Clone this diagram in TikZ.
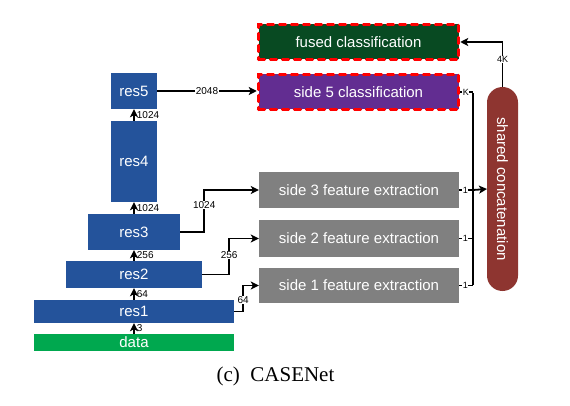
\documentclass[tikz,border=0pt]{standalone}
\usepackage{fontspec}
\setmainfont{Liberation Sans}
\newfontfamily\capfont{Liberation Serif}
\usetikzlibrary{arrows.meta}
\definecolor{resblue}{RGB}{36,83,155}
\definecolor{datagreen}{RGB}{0,168,79}
\definecolor{sidegray}{RGB}{128,128,128}
\definecolor{fusedgreen}{RGB}{8,74,34}
\definecolor{sidepurple}{RGB}{98,45,145}
\definecolor{concatred}{RGB}{142,53,48}
\tikzset{
  box/.style={inner sep=0pt, text=white, font=\fontsize{15}{18}\selectfont},
  clsbox/.style={box, draw=red, line width=3.5pt, dash pattern=on 6pt off 6pt, line cap=round},
  arr/.style={line width=1.8pt, -{Stealth[length=8pt,width=8pt,inset=2pt]}},
  ln/.style={line width=1.8pt},
  lbl/.style={fill=white, inner sep=0.5pt, font=\fontsize{10}{11}\selectfont},
  slbl/.style={fill=white, inner sep=0.5pt, font=\fontsize{9}{10}\selectfont},
  uplbl/.style={right, inner sep=1pt, xshift=1pt, font=\fontsize{10}{11}\selectfont},
}
\begin{document}
\begin{tikzpicture}[x=1pt,y=-1pt]
\useasboundingbox (0,0) rectangle (570,406);
% left stack
\node[box, fill=resblue, minimum width=46pt, minimum height=36pt] (res5) at (134,91) {res5};
\node[box, fill=resblue, minimum width=46pt, minimum height=81pt] (res4) at (134,161.5) {res4};
\node[box, fill=resblue, minimum width=92pt, minimum height=36pt] (res3) at (134,232) {res3};
\node[box, fill=resblue, minimum width=136pt, minimum height=27pt] (res2) at (134,274.5) {res2};
\node[box, fill=resblue, minimum width=200pt, minimum height=23pt] (res1) at (134,311.5) {res1};
\node[box, fill=datagreen, minimum width=200pt, minimum height=17pt] (data) at (134,342.5) {data};
% right boxes
\node[clsbox, fill=fusedgreen, minimum width=200pt, minimum height=35pt] (fused) at (358.5,42) {fused classification};
\node[clsbox, fill=sidepurple, minimum width=200pt, minimum height=35pt] (side5) at (358.5,92) {side 5 classification};
\node[box, fill=sidegray, minimum width=200pt, minimum height=36pt] (side3) at (359,190) {side 3 feature extraction};
\node[box, fill=sidegray, minimum width=200pt, minimum height=37pt] (side2) at (359,238.5) {side 2 feature extraction};
\node[box, fill=sidegray, minimum width=200pt, minimum height=35pt] (side1) at (359,285.5) {side 1 feature extraction};
\node[box, fill=concatred, minimum width=204pt, minimum height=31pt, rounded corners=15.5pt, rotate=-90] (concat) at (502.5,189) {shared concatenation};
\coordinate (cin) at (487,189);
\coordinate (ctop) at (502.5,87);
% up arrows
\draw[arr] (data.north) -- node[uplbl]{3} (res1.south);
\draw[arr] (res1.north) -- node[uplbl]{64} (res2.south);
\draw[arr] (res2.north) -- node[uplbl]{256} (res3.south);
\draw[arr] (res3.north) -- node[uplbl]{1024} (res4.south);
\draw[arr] (res4.north) -- node[uplbl]{1024} (res5.south);
% side connectors
\draw[arr] (res5.east) -- node[lbl]{2048} (res5.east -| side5.west);
\draw[arr] (res3.east) -- ++(24,0) |- node[lbl, pos=0.32]{1024} (side3.west);
\draw[arr] (res2.east) -- ++(27,0) |- node[lbl, pos=0.27]{256} (side2.west);
\draw[arr] (res1.east) -- ++(9,0) |- node[lbl, pos=0.22]{64} (side1.west);
% bus
\coordinate (bus) at (473,92);
\draw[ln] (side5.east) -- node[slbl, pos=0.45]{K} (side5.east -| bus);
\draw[ln] (side3.east) -- node[slbl, pos=0.45]{1} (side3.east -| bus);
\draw[ln] (side2.east) -- node[slbl, pos=0.45]{1} (side2.east -| bus);
\draw[ln] (side1.east) -- node[slbl, pos=0.45]{1} (side1.east -| bus);
\draw[ln] ([yshift=-0.9pt]side5.east -| bus) -- ([yshift=0.9pt]side1.east -| bus);
\draw[arr] (side3.east -| bus) -- (cin);
\draw[arr] (ctop) |- node[slbl, pos=0.31]{4K} (fused.east);
% caption
\node[inner sep=0pt, font=\capfont\fontsize{21}{24}\selectfont] (cap) at (275.5,376) {(c)\enspace CASENet};
\end{tikzpicture}
\end{document}
